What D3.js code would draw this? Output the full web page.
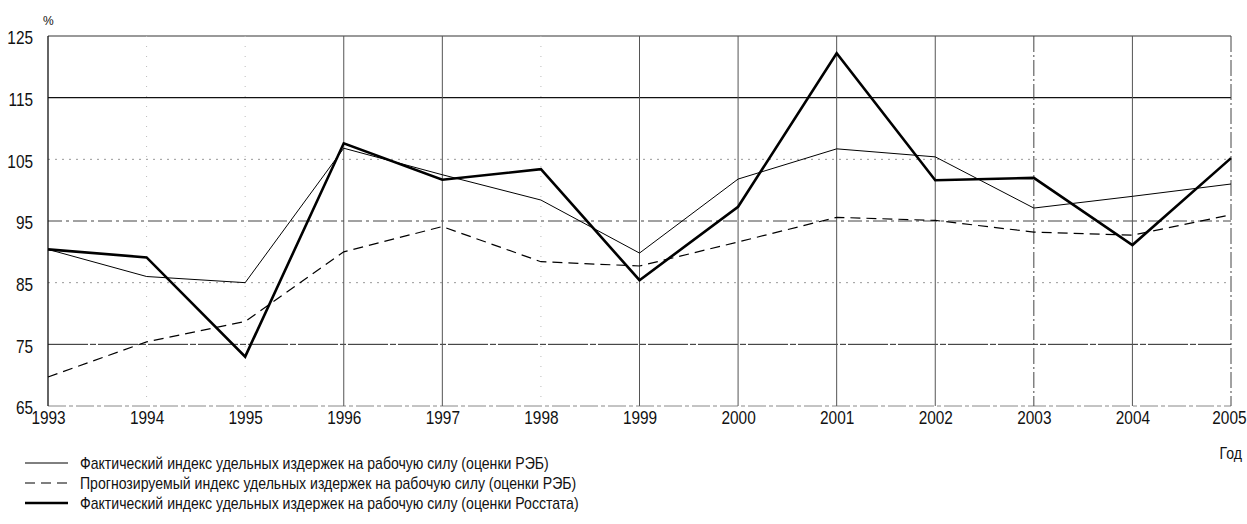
<!DOCTYPE html>
<html>
<head>
<meta charset="utf-8">
<script src="https://cdn.jsdelivr.net/npm/d3@7"></script>
<style>
  body { margin: 0; background: #fff; }
  svg { display: block; }
  .tick-label { font-family: "Liberation Sans", Arial, sans-serif; font-size: 17.5px; fill: #111; }
  .legend-label { font-family: "Liberation Sans", Arial, sans-serif; font-size: 16px; fill: #111; }
</style>
</head>
<body>
<script>
'use strict';

// chart data
const years = [1993, 1994, 1995, 1996, 1997, 1998, 1999, 2000, 2001, 2002, 2003, 2004, 2005]
const factRev = [90.4, 86, 85, 106.8, 102.5, 98.4, 89.8, 101.8, 106.7, 105.4, 97.1, 99, 101]
const forecastRev = [69.7, 75.4, 78.7, 90, 94.1, 88.4, 87.7, 91.6, 95.6, 95.1, 93.2, 92.7, 96]
const factRosstat = [90.4, 89.1, 73, 107.6, 101.7, 103.4, 85.4, 97.3, 122.2, 101.6, 102, 91.1, 105.2]
const yTicks = [65, 75, 85, 95, 105, 115, 125]
const legendLabels = [
  "Фактический индекс удельных издержек на рабочую силу (оценки РЭБ)",
  "Прогнозируемый индекс удельных издержек на рабочую силу (оценки РЭБ)",
  "Фактический индекс удельных издержек на рабочую силу (оценки Росстата)"
]

const m = { width: 1247, height: 524, left: 48, right: 1231, top: 36, bottom: 406 }
const squeeze = 0.88 // the source font is a condensed sans

const svg = d3.select('body')
  .append('svg')
  .attr('width', m.width)
  .attr('height', m.height)

const x = d3.scaleLinear()
  .domain([years[0], years[years.length - 1]])
  .range([m.left, m.right])

const y = d3.scaleLinear()
  .domain([65, 125])
  .range([m.bottom, m.top])

// horizontal grid - the scan shows some lines solid, others broken
function hStyle(v) {
  if (v === 115) return { c: '#111', w: 1.2, d: null }
  if (v === 75) return { c: '#222', w: 1, d: '40,2,6,2' }
  if (v === 95) return { c: '#444', w: 1, d: '14,4,3,4' }
  if (v === 125) return { c: '#777', w: 1.5, d: null }
  if (v === 65) return { c: '#888', w: 1, d: '18,3,4,3' }
  return { c: '#999', w: 1, d: '2,5' }
}
yTicks.forEach(v => {
  const s = hStyle(v)
  svg.append('line')
    .attr('x1', m.left).attr('x2', m.right)
    .attr('y1', y(v)).attr('y2', y(v))
    .attr('stroke', s.c)
    .attr('stroke-width', s.w)
    .attr('stroke-dasharray', s.d)
})

// vertical grid
const faintYears = [1994, 1995, 1998]
const dashYears = [2003, 2005]
years.forEach(yr => {
  let c = '#555', w = 1, d = null
  if (yr === years[0]) { c = '#111'; w = 1.3 }
  else if (faintYears.includes(yr)) { c = '#bbb'; d = '1,9' }
  else if (dashYears.includes(yr)) { c = '#444'; d = '16,3,2,3' }
  svg.append('line')
    .attr('x1', x(yr)).attr('x2', x(yr))
    .attr('y1', m.top).attr('y2', m.bottom)
    .attr('stroke', c)
    .attr('stroke-width', w)
    .attr('stroke-dasharray', d)
})

// axes labels
const yAxis = d3.axisLeft(y).tickValues(yTicks).tickSize(0).tickPadding(15)
const gy = svg.append('g')
  .attr('transform', 'translate(' + m.left + ',0)')
  .call(yAxis)
gy.select('.domain').remove()
gy.selectAll('text')
  .attr('class', 'tick-label')
  .attr('fill', null)
  .attr('dy', '0.45em')
  .attr('x', -15 / squeeze)
  .attr('transform', 'scale(' + squeeze + ',1)')

const xAxis = d3.axisBottom(x).tickValues(years).tickFormat(d3.format('d')).tickSize(0).tickPadding(6)
const gx = svg.append('g')
  .attr('transform', 'translate(0,' + m.bottom + ')')
  .call(xAxis)
gx.select('.domain').remove()
gx.selectAll('text')
  .attr('class', 'tick-label')
  .attr('fill', null)
  .attr('transform', 'scale(' + squeeze + ',1)')
// last year label sits against the right edge
gx.selectAll('.tick').filter(d => d === years[years.length - 1])
  .select('text').attr('text-anchor', 'end').attr('x', (1246 - m.right) / squeeze)

svg.append('text')
  .attr('class', 'legend-label')
  .attr('x', 43).attr('y', 25)
  .style('font-size', '12px')
  .text('%')

svg.append('text')
  .attr('class', 'legend-label')
  .attr('transform', 'translate(1242,459) scale(' + squeeze + ',1)')
  .attr('text-anchor', 'end')
  .style('font-size', '16px')
  .text('Год')

// series lines
const series = [
  { values: factRev, w: 1, d: null },
  { values: forecastRev, w: 1.2, d: '10,6' },
  { values: factRosstat, w: 2.6, d: null }
]

const line = d3.line()
  .x((d, i) => x(years[i]))
  .y(d => y(d))

series.forEach(s => {
  svg.append('path')
    .datum(s.values)
    .attr('d', line)
    .attr('fill', 'none')
    .attr('stroke', '#000')
    .attr('stroke-width', s.w)
    .attr('stroke-dasharray', s.d)
    .attr('stroke-linejoin', 'miter')
})

// legend
series.forEach((s, i) => {
  const ly = 463 + i * 20
  svg.append('line')
    .attr('x1', 25).attr('x2', 68)
    .attr('y1', ly).attr('y2', ly)
    .attr('stroke', '#000')
    .attr('stroke-width', s.w)
    .attr('stroke-dasharray', s.d)
  svg.append('text')
    .attr('class', 'legend-label')
    .attr('transform', 'translate(80,' + (ly + 5.5) + ') scale(' + squeeze + ',1)')
    .text(legendLabels[i])
})
</script>
</body>
</html>
